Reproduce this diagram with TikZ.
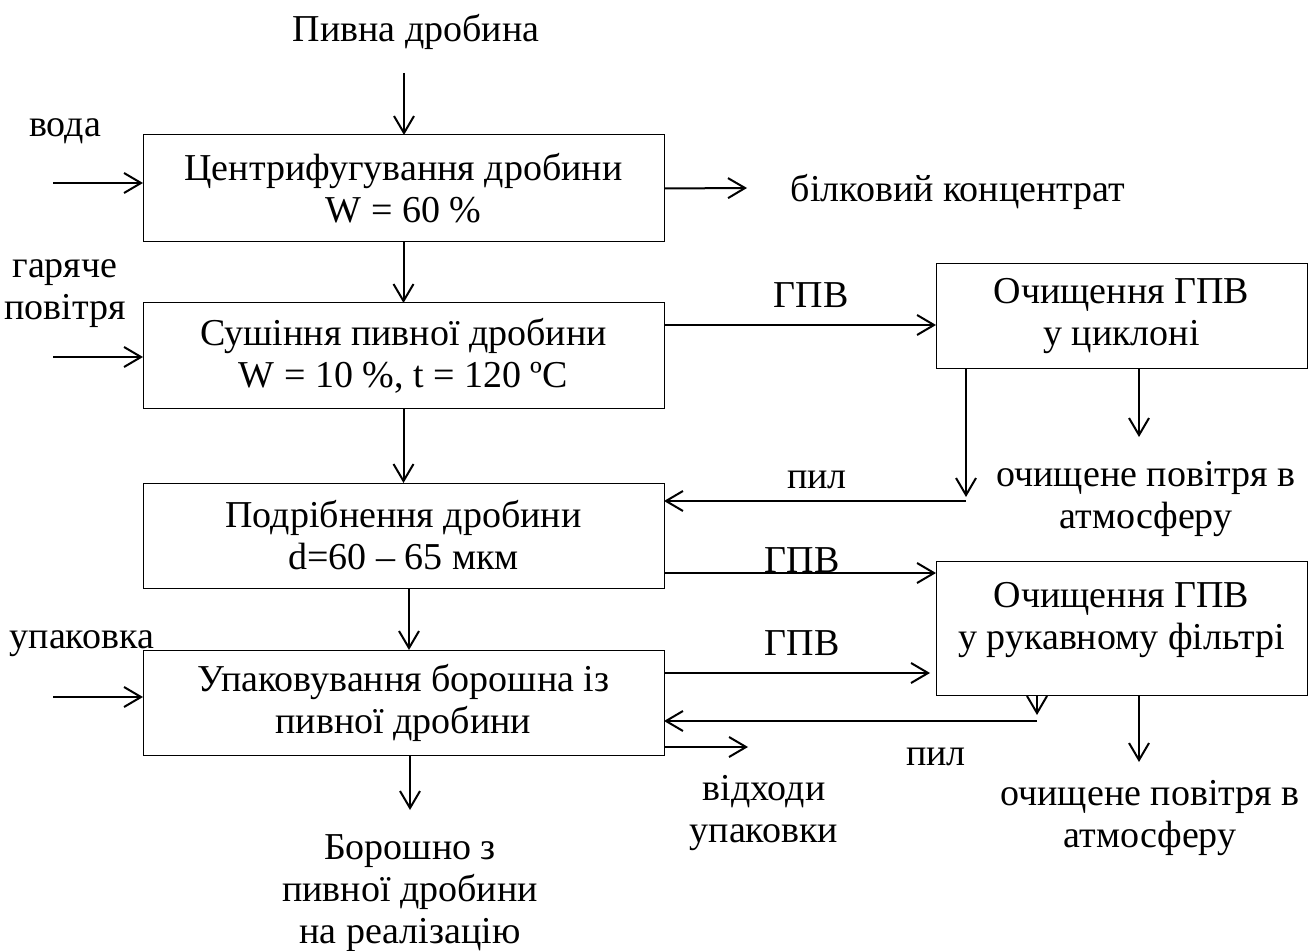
\documentclass[tikz,border=0pt]{standalone}
\usepackage{fontspec}
\setmainfont{Liberation Serif}
\usetikzlibrary{arrows.meta}

\begin{document}
\begin{tikzpicture}[x=0.5pt, y=-0.5pt,
                    >={Straight Barb[length=8.5pt,width=10pt]},
                    every node/.style={font=\fontsize{19}{21}\selectfont, inner sep=0pt, outer sep=0pt},
                    stage/.style={draw, line width=0.5pt, align=center,
                                  minimum width=260.5pt, minimum height=52.5pt},
                    clean/.style={draw, line width=0.5pt, align=center,
                                  minimum width=185.5pt, minimum height=52.5pt},
                    note/.style={anchor=base},
                    notes/.style={align=center},
                    flow/.style={line width=1pt, ->}]

  \useasboundingbox (0,0) rectangle (1309,951);

  %% основна лінія
  \node[note] (grain) at (416,42) {Пивна дробина};
  \node[stage, minimum height=53.5pt] (cent) at (403.5,188.5) {Центрифугування дробини\\W = 60 \%};
  \node[stage] (dry) at (403.5,355.5) {Сушіння пивної дробини\\W = 10 \%, t = 120 ºC};
  \node[stage] (grind) at (403.5,535.5) {Подрібнення дробини\\d=60 – 65 мкм};
  \node[stage] (pack) at (403.5,702.5) {Упаковування борошна із\\пивної дробини};
  \node[notes] (flour) at (410,893) {Борошно з\\пивної дробини\\на реалізацію};

  %% очищення ГПВ
  \node[clean] (cyc) at (1121.5,316.5) {Очищення ГПВ\\у циклоні};
  \node[clean, minimum height=67pt] (filt) at (1121.5,628.5) {};
  \node[notes] (filttxt) at (1121.5,620) {Очищення ГПВ\\у рукавному фільтрі};

  %% підписи
  \node[note] (water) at (65,137) {вода};
  \node[notes] (hotair) at (65,294) {гаряче\\повітря};
  \node[note] (wrap) at (82,648) {упаковка};
  \node[note] (protein) at (958,202) {білковий концентрат};
  \node[note] (gpvA) at (811,308) {ГПВ};
  \node[note] (gpvB) at (802,572) {ГПВ};
  \node[note] (gpvC) at (802,655) {ГПВ};
  \node[note] (dustA) at (817,488) {пил};
  \node[note] (dustB) at (936,765) {пил};
  \node[notes] (airA) at (1146,499) {очищене повітря в\\атмосферу};
  \node[notes] (airB) at (1150,818) {очищене повітря в\\атмосферу};
  \node[notes] (waste) at (764,813) {відходи\\упаковки};

  %% рівні стрілок
  \coordinate (top) at (404,73);
  \coordinate (inW) at (53,183);
  \coordinate (inA) at (53,357);
  \coordinate (inP) at (53,697);
  \coordinate (outB) at (747,188);
  \coordinate (outW) at (748,747);
  \coordinate (outF) at (410,810);
  \coordinate (lvA) at (0,325);
  \coordinate (lvB) at (0,573);
  \coordinate (lvC) at (0,673);
  \coordinate (dcA) at (966,497);
  \coordinate (dlA) at (966,501);
  \coordinate (acA) at (1139,437);
  \coordinate (dcB) at (1037,715);
  \coordinate (dlB) at (1037,721);
  \coordinate (acB) at (1139,762);

  %% стрілки основної лінії
  \draw[flow] (top) -- (top |- cent.north);
  \draw[flow] (cent.south) -- (dry.north);
  \draw[flow] (dry.south) -- (grind.north);
  \draw[flow] (grind.south -| 409,0) -- (pack.north -| 409,0);
  \draw[flow] (pack.south -| outF) -- (outF);

  %% входи
  \draw[flow] (inW) -- (inW -| cent.west);
  \draw[flow] (inA) -- (inA -| dry.west);
  \draw[flow] (inP) -- (inP -| pack.west);

  %% виходи
  \draw[flow] (cent.east) -- (outB);
  \draw[flow] (outW -| pack.east) -- (outW);

  %% ГПВ на очищення
  \draw[flow] (lvA -| dry.east) -- (lvA -| cyc.west);
  \draw[flow] (lvB -| grind.east) -- (lvB -| filt.west);
  \draw[flow] (lvC -| pack.east) -- (lvC -| 930,0);

  %% пил і повітря з циклону
  \draw[flow] (dcA |- cyc.south) -- (dcA);
  \draw[flow] (dlA) -- (dlA -| grind.east);
  \draw[flow] (acA |- cyc.south) -- (acA);

  %% пил і повітря з фільтра
  \draw[flow] (dcB |- filt.south) -- (dcB);
  \draw[flow] (dlB) -- (dlB -| pack.east);
  \draw[flow] (acB |- filt.south) -- (acB);

\end{tikzpicture}
\end{document}
